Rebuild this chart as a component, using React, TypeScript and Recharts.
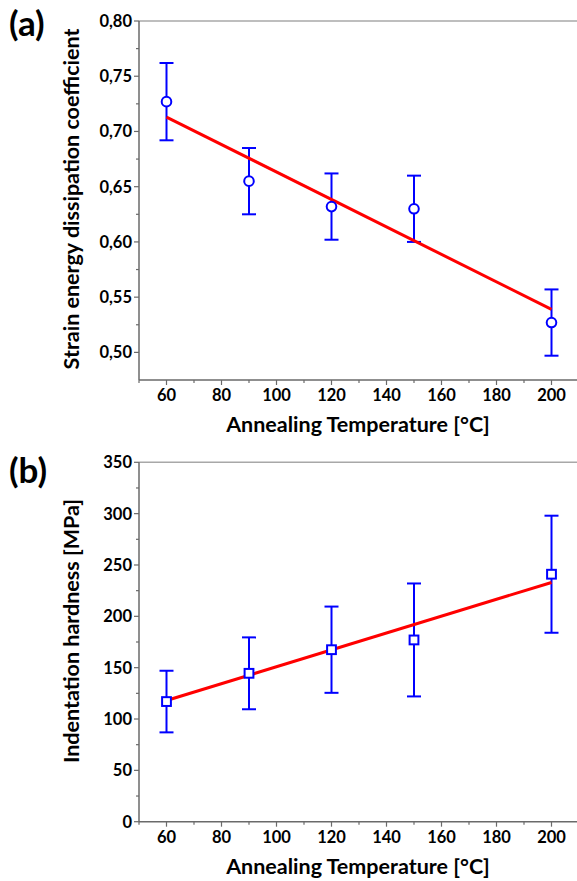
import React from 'react';
import {
  ComposedChart, Scatter, Line, XAxis, YAxis, ErrorBar, ReferenceLine, Label,
} from 'recharts';

// annealing temperatures (°C)
const temps = [60, 90, 120, 150, 200];

// (a) strain energy dissipation coefficient
const dissipation = [0.727, 0.655, 0.632, 0.630, 0.527];
const dissipationErr = [0.035, 0.030, 0.030, 0.030, 0.030];

// (b) indentation hardness (MPa)
const hardness = [117, 144.5, 167.5, 177, 241];
const hardnessErr = [30, 35, 42, 55, 57];

// linear fits, at the end temperatures
const fitTemps = [60, 200];
const dissipationFit = [0.713, 0.539];
const hardnessFit = [118, 233];

// ticks (majors get labels)
const xTicks = [50, 60, 70, 80, 90, 100, 110, 120, 130, 140, 150, 160, 170, 180, 190, 200, 210];
const xMajor = [60, 80, 100, 120, 140, 160, 180, 200];
const yTicksA = [0.5, 0.525, 0.55, 0.575, 0.6, 0.625, 0.65, 0.675, 0.7, 0.725, 0.75, 0.775, 0.8];
const yMajorA = [0.5, 0.55, 0.6, 0.65, 0.7, 0.75, 0.8];
const yTicksB = [0, 25, 50, 75, 100, 125, 150, 175, 200, 225, 250, 275, 300, 325, 350];
const yMajorB = [0, 50, 100, 150, 200, 250, 300, 350];

const ptsA = temps.map((x, i) => ({ x, y: dissipation[i], err: dissipationErr[i] }));
const ptsB = temps.map((x, i) => ({ x, y: hardness[i], err: hardnessErr[i] }));
const fitA = fitTemps.map((x, i) => ({ x, fit: dissipationFit[i] }));
const fitB = fitTemps.map((x, i) => ({ x, fit: hardnessFit[i] }));

const FONT = 'Lato, "Open Sans", sans-serif';
const AXIS = '#6a6a6a';
const BLUE = '#0000ff';
const RED = '#ff0000';

const XTick = (props: any) => {
  const { x, y, payload } = props;
  const major = xMajor.includes(payload.value);
  return (
    <g>
      <line x1={x} x2={x} y1={y} y2={y + (major ? 5 : 3)} stroke={AXIS} strokeWidth={1.2} />
      {major && (
        <text x={x} y={y + 21} textAnchor="middle" fontFamily={FONT} fontWeight={700} fontSize={16.5} fill="#000">
          {payload.value}
        </text>
      )}
    </g>
  );
};

const makeYTick = (majors: number[], fmt: (v: number) => string) => (props: any) => {
  const { x, y, payload } = props;
  const major = majors.includes(payload.value);
  return (
    <g>
      <line x1={x} x2={x - (major ? 5 : 3)} y1={y} y2={y} stroke={AXIS} strokeWidth={1.2} />
      {major && (
        <text x={x - 7} y={y + 6} textAnchor="end" fontFamily={FONT} fontWeight={700} fontSize={16.5} fill="#000">
          {fmt(payload.value)}
        </text>
      )}
    </g>
  );
};

const YTickA = makeYTick(yMajorA, (v) => v.toFixed(2).replace('.', ','));
const YTickB = makeYTick(yMajorB, (v) => String(v));

const Circle = (p: any) => (
  <circle cx={p.cx} cy={p.cy} r={4.8} fill="#fff" stroke={BLUE} strokeWidth={2} />
);
const Square = (p: any) => (
  <rect x={p.cx - 4.4} y={p.cy - 4.4} width={8.8} height={8.8} fill="#fff" stroke={BLUE} strokeWidth={2} />
);

const titleStyle = { fontFamily: FONT, fontWeight: 700, fontSize: 21.5, fill: '#000' } as const;

const Panel = ({ pts, fit, domain, ticks, tick, shape, yTitle, yTitleY, top, bottom, height }: any) => (
  <ComposedChart width={579} height={height} margin={{ top, right: 0, bottom, left: 79 }}>
    <XAxis
      type="number" dataKey="x" domain={[50, 210]} ticks={xTicks} interval={0}
      tickSize={0} tickMargin={0} tickLine={false} tick={XTick} height={30}
      axisLine={{ stroke: AXIS, strokeWidth: 1.5 }}
    >
      <Label content={() => (
        <text x={358} y={height - bottom + 22} textAnchor="middle" {...titleStyle}>Annealing Temperature [°C]</text>
      )} />
    </XAxis>
    <YAxis
      type="number" domain={domain} ticks={ticks} interval={0} allowDataOverflow
      tickSize={0} tickMargin={0} tickLine={false} tick={tick} width={60}
      axisLine={{ stroke: AXIS, strokeWidth: 1.5 }}
    >
      <Label content={() => (
        <text transform={`translate(79,${yTitleY}) rotate(-90)`} textAnchor="middle" {...titleStyle}>{yTitle}</text>
      )} />
    </YAxis>
    <ReferenceLine y={domain[1]} stroke="#a8a8a8" strokeWidth={1.5} />
    <Scatter data={pts} dataKey="y" shape={shape} isAnimationActive={false}>
      <ErrorBar dataKey="err" direction="y" width={7} stroke={BLUE} strokeWidth={2} />
    </Scatter>
    <Line data={fit} dataKey="fit" type="linear" stroke={RED} strokeWidth={3} dot={false} activeDot={false} isAnimationActive={false} />
  </ComposedChart>
);

const tagStyle: React.CSSProperties = {
  position: 'absolute', left: 9, fontFamily: FONT, fontWeight: 700, fontSize: 35, lineHeight: '42px', color: '#000',
};

export default function App() {
  return (
    <div style={{ position: 'absolute', left: 0, top: 0, width: 577, height: 881, overflow: 'hidden', background: '#fff' }}>
      <div style={{ position: 'absolute', left: 0, top: 0 }}>
        <Panel
          pts={ptsA} fit={fitA} domain={[0.475, 0.8]} ticks={yTicksA} tick={YTickA} shape={Circle}
          yTitle="Strain energy dissipation coefficient" yTitleY={199}
          top={21} bottom={30} height={440}
        />
      </div>
      <div style={{ position: 'absolute', left: 0, top: 440 }}>
        <Panel
          pts={ptsB} fit={fitB} domain={[0, 350]} ticks={yTicksB} tick={YTickB} shape={Square}
          yTitle="Indentation hardness [MPa]" yTitleY={191}
          top={22.3} bottom={29.3} height={441}
        />
      </div>
      <div style={{ ...tagStyle, top: 1 }}>(a)</div>
      <div style={{ ...tagStyle, top: 448 }}>(b)</div>
    </div>
  );
}
